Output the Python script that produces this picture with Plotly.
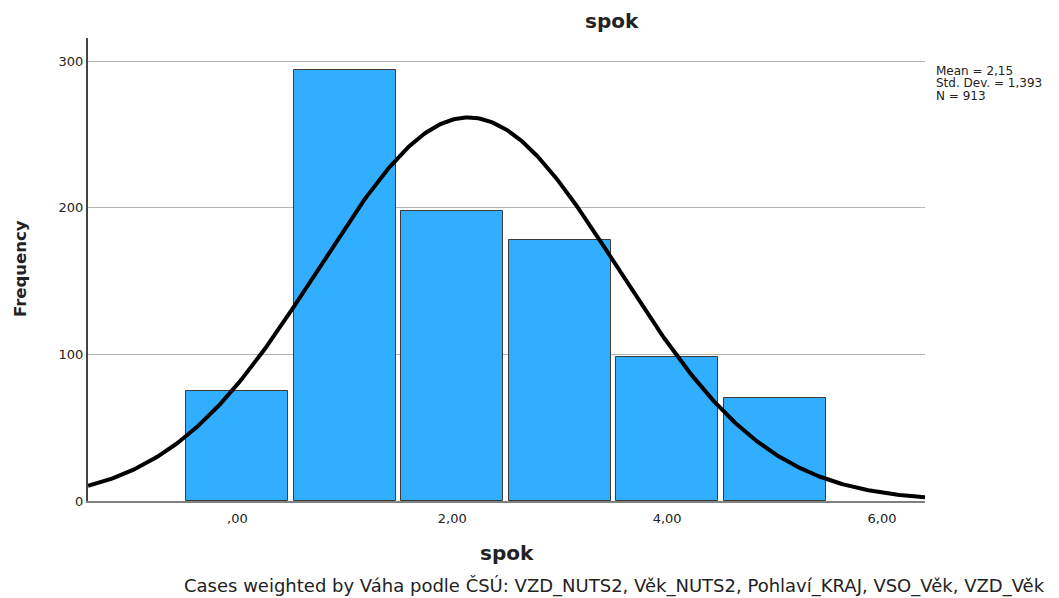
import numpy as np
import plotly.graph_objects as go

# Data
categories = [0, 1, 2, 3, 4, 5]
frequencies = [75, 294, 198, 178, 98, 70]
mean_val = 2.15
std_val = 1.393
n_val = 913
bin_width = 1.0
x_ticks = [0, 2, 4, 6]
x_tick_labels = [",00", "2,00", "4,00", "6,00"]
y_ticks = [0, 100, 200, 300]
stats_lines = ["Mean = 2,15", "Std. Dev. = 1,393", "N = 913"]

X_MIN, X_MAX = -1.39, 6.40
Y_MAX = 315.7

fig = go.Figure()
fig.add_trace(go.Bar(
    x=categories, y=frequencies, width=0.95,
    marker=dict(color="#31aeff", line=dict(color="#3a3a3a", width=1)),
    showlegend=False, hoverinfo="x+y"))

xs = np.linspace(X_MIN, X_MAX, 400)
ys = n_val * bin_width / (std_val * np.sqrt(2 * np.pi)) * np.exp(-0.5 * ((xs - mean_val) / std_val) ** 2)
fig.add_trace(go.Scatter(x=xs, y=ys, mode="lines",
                         line=dict(color="black", width=4), showlegend=False))

font = "DejaVu Sans, Verdana, sans-serif"
OFF = 8  # page body margin
W, H = 1059 - OFF, 598 - OFF
L, T = 88 - OFF, 38 - OFF
R = W - (925 - OFF)
B = H - (501 - OFF)
pw, ph = W - L - R, H - T - B

def px(x):
    return (x - OFF - L) / pw

def py(y):
    return 1 - (y - OFF - T) / ph

fig.update_layout(
    width=W, height=H, margin=dict(l=L, r=R, t=T, b=B),
    plot_bgcolor="white", paper_bgcolor="white",
    font=dict(family=font, color="#222"),
    bargap=0,
    xaxis=dict(range=[X_MIN, X_MAX], tickvals=x_ticks, ticktext=x_tick_labels,
               showgrid=False, zeroline=False, showline=True, linecolor="#808080",
               linewidth=2, ticks="outside", ticklen=4, tickcolor="rgba(0,0,0,0)",
               tickfont=dict(size=13, color="#222")),
    yaxis=dict(range=[0, Y_MAX], tickvals=y_ticks, showgrid=True, gridcolor="#b4b4b4",
               gridwidth=1, zeroline=False, showline=True, linecolor="#444",
               linewidth=2, ticks="",
               tickfont=dict(size=13, color="#222")),
)

anns = [
    dict(text="<b>spok</b>", x=px(612), y=py(21), font=dict(size=20)),
    dict(text="<b>spok</b>", x=px(507), y=py(553), font=dict(size=20)),
    dict(text="<b>Frequency</b>", x=px(20), y=py(269), font=dict(size=16.5), textangle=-90),
    dict(text="Cases weighted by Váha podle ČSÚ: VZD_NUTS2, Věk_NUTS2, Pohlaví_KRAJ, VSO_Věk, VZD_Věk",
         x=px(614), y=py(586), font=dict(size=18)),
]
for a in anns:
    fig.add_annotation(xref="paper", yref="paper", showarrow=False,
                       xanchor="center", yanchor="middle", **a)

for txt, yc in zip(stats_lines, [71, 83.5, 96]):
    fig.add_annotation(xref="paper", yref="paper", showarrow=False, text=txt,
                       x=px(935), y=py(yc), xanchor="left", yanchor="middle",
                       borderpad=0, font=dict(size=12, color="#222"))

fig.write_html("out.html")
